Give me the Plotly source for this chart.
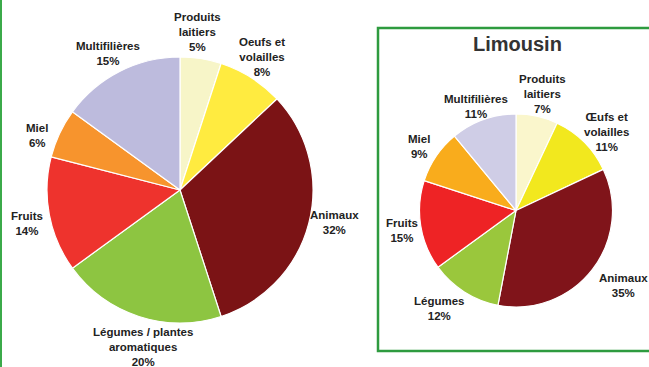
import plotly.graph_objects as go

W, H = 649, 367

# ---- data ----
categories_fr = ["Produits laitiers", "Oeufs et volailles", "Animaux",
                 "Légumes / plantes aromatiques", "Fruits", "Miel", "Multifilières"]
values_fr = [5, 8, 32, 20, 14, 6, 15]
labels_fr = ["Produits<br>laitiers", "Oeufs et<br>volailles", "Animaux",
             "Légumes / plantes<br>aromatiques", "Fruits", "Miel", "Multifilières"]

categories_lim = ["Produits laitiers", "Œufs et volailles", "Animaux",
                  "Légumes", "Fruits", "Miel", "Multifilières"]
values_lim = [7, 11, 35, 12, 15, 9, 11]
labels_lim = ["Produits<br>laitiers", "Œufs et<br>volailles", "Animaux",
              "Légumes", "Fruits", "Miel", "Multifilières"]

title_lim = "Limousin"

# ---- styles ----
colors_fr = ["#F7F5C8", "#FFEB40", "#7B1315", "#8DC541", "#EE332D", "#F7942D", "#BDBBDD"]
colors_lim = ["#FAF6CC", "#F2E81E", "#80141A", "#9AC73C", "#EE2325", "#F9AC1C", "#CFCDE6"]

# label centres in pixels (x, y from top)
pos_fr = [(197, 32), (262, 57), (334, 222), (143, 347), (27, 223), (37, 135), (108, 54)]
pos_lim = [(542, 94), (606, 132), (623, 285), (439, 308), (402, 230), (419, 146), (476, 106)]


def px_dom(cx, cy, r):
    return dict(x=[(cx - r) / W, (cx + r) / W], y=[1 - (cy + r) / H, 1 - (cy - r) / H])


fig = go.Figure()
fig.add_trace(go.Pie(
    labels=categories_fr, values=values_fr, sort=False, direction="clockwise", rotation=0,
    marker=dict(colors=colors_fr, line=dict(color="white", width=1.2)),
    textinfo="none", hoverinfo="label+percent", domain=px_dom(180, 190, 133), showlegend=False))
fig.add_trace(go.Pie(
    labels=categories_lim, values=values_lim, sort=False, direction="clockwise", rotation=0,
    marker=dict(colors=colors_lim, line=dict(color="white", width=1.2)),
    textinfo="none", hoverinfo="label+percent", domain=px_dom(516, 210.5, 96.5), showlegend=False))

font = dict(family="Liberation Sans, Arial, sans-serif", size=11.5, color="#222222")
anns = []
for lab, v, (x, y) in zip(labels_fr, values_fr, pos_fr):
    anns.append(dict(text=f"<b>{lab}<br>{v}%</b>", x=x / W, y=1 - y / H, xref="paper", yref="paper",
                     showarrow=False, xanchor="center", yanchor="middle", font=font, align="center"))
for lab, v, (x, y) in zip(labels_lim, values_lim, pos_lim):
    anns.append(dict(text=f"<b>{lab}<br>{v}%</b>", x=x / W, y=1 - y / H, xref="paper", yref="paper",
                     showarrow=False, xanchor="center", yanchor="middle", font=font, align="center"))
anns.append(dict(text=f"<b>{title_lim}</b>", x=517 / W, y=1 - 44 / H, xref="paper", yref="paper",
                 showarrow=False, xanchor="center", yanchor="middle",
                 font=dict(family="Liberation Sans, Arial, sans-serif", size=20, color="#333333")))

shapes = [
    dict(type="line", xref="paper", yref="paper", x0=1 / W, x1=1 / W, y0=0, y1=1,
         line=dict(color="#3BAA4A", width=2)),
    dict(type="rect", xref="paper", yref="paper", x0=378 / W, x1=1.02, y0=1 - 351 / H, y1=1 - 28 / H,
         line=dict(color="#2E9B3F", width=2.5)),
]

fig.update_layout(width=W, height=H, margin=dict(l=0, r=0, t=0, b=0),
                  paper_bgcolor="white", plot_bgcolor="white",
                  annotations=anns, shapes=shapes)
fig.write_html("out.html")
